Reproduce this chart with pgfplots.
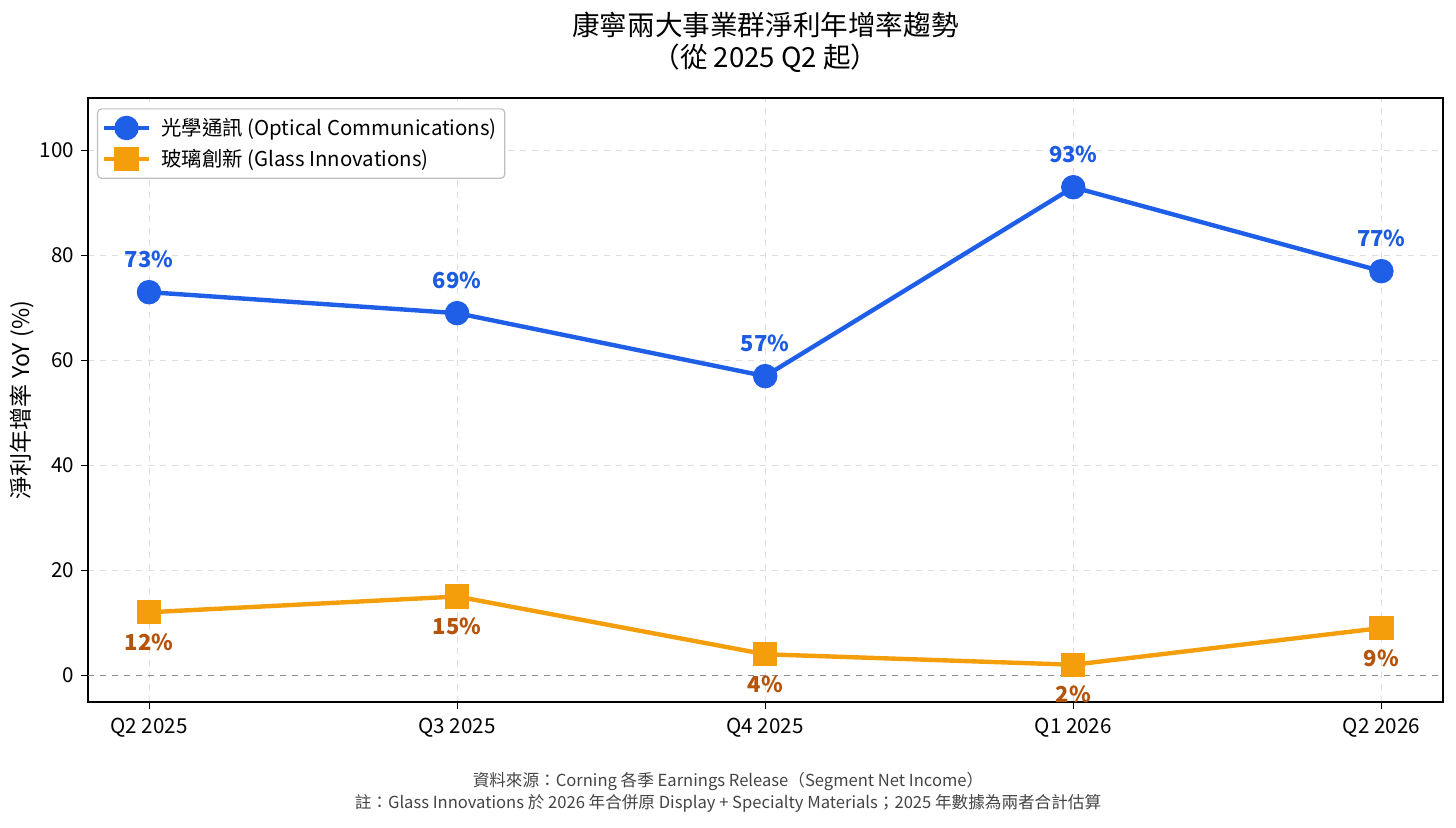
\documentclass[border=0pt]{standalone}
\usepackage{pgfplots}
\pgfplotsset{compat=1.18}
\usepackage{fontspec}
\setmainfont{Noto Sans CJK TC}
\definecolor{cblue}{HTML}{1F5FE8}
\definecolor{corange}{HTML}{F59E0B}
\definecolor{corlab}{HTML}{B45309}
\definecolor{cblulab}{HTML}{1D5CE0}
\definecolor{foot}{HTML}{444444}
\begin{document}
\begin{tikzpicture}[x=1pt,y=1pt]
\path[use as bounding box] (-44,-62.5) rectangle (684,351);
\begin{axis}[at={(0,0)}, anchor=south west, scale only axis,
  width=677.5pt, height=302pt,
  xmin=-0.198, xmax=4.2, ymin=-5.1, ymax=110,
  xtick={0,1,2,3,4},
  xticklabels={Q2 2025,Q3 2025,Q4 2025,Q1 2026,Q2 2026},
  ytick={0,20,40,60,80,100},
  tick pos=left,
  grid=major, grid style={dashed, black!13, line width=0.5pt},
  tick align=outside, major tick length=3.5pt,
  tick style={black, line width=0.5pt},
  axis line style={line width=0.6pt},
  ticklabel style={font=\fontsize{10.3}{12}\selectfont},
  xticklabel style={yshift=-1pt},
  /pgf/number format/assume math mode=true,
  legend cell align=left,
  legend style={at={(axis description cs:0.0066,0.983)}, anchor=north west,
    draw=black!25, rounded corners=2pt, line width=0.6pt,
    font=\fontsize{10.2}{12.5}\selectfont,
    inner xsep=2pt, inner ysep=2.5pt,
    row sep=1.5pt,
    /tikz/every odd column/.append style={column sep=3pt}},
  legend image code/.code={\draw[mark repeat=2,mark phase=2] plot coordinates {(0cm,0cm)(0.4cm,0cm)(0.8cm,0cm)};},
  point meta=explicit symbolic,
  clip=false,
]
\addplot[black!45, dashed, line width=0.6pt, forget plot] coordinates {(-0.198,0) (4.2,0)};
\addplot[cblue, line width=2.2pt, mark=*, mark size=5pt, mark options={solid, fill=cblue, draw=cblue},
  nodes near coords, nodes near coords style={font=\fontsize{11}{13}\selectfont\bfseries, text=cblulab, anchor=center, yshift=16.5pt}]
  coordinates {(0,73) [73\%] (1,69) [69\%] (2,57) [57\%] (3,93) [93\%] (4,77) [77\%]};
\addlegendentry{光學通訊 (Optical Communications)}
\addplot[corange, line width=2.2pt, mark=square*, mark size=5pt, mark options={solid, fill=corange, draw=corange},
  nodes near coords, nodes near coords style={font=\fontsize{11}{13}\selectfont\bfseries, text=corlab, anchor=center, yshift=-15pt}]
  coordinates {(0,12) [12\%] (1,15) [15\%] (2,4) [4\%] (3,2) [2\%] (4,9) [9\%]};
\addlegendentry{玻璃創新 (Glass Innovations)}
\end{axis}
\node[rotate=90, font=\fontsize{11.5}{13}\selectfont] at (-33,151) {淨利年增率 YoY (\%)};
\node[font=\fontsize{13.8}{16}\selectfont] at (338.75,338.5) {康寧兩大事業群淨利年增率趨勢};
\node[font=\fontsize{13.8}{16}\selectfont] at (338.75,322) {（從 2025 Q2 起）};
\node[font=\fontsize{8.3}{10}\selectfont, text=foot] at (320,-39.5) {資料來源：Corning 各季 Earnings Release（Segment Net Income）};
\node[font=\fontsize{8.3}{10}\selectfont, text=foot] at (320,-50.5) {註：Glass Innovations 於 2026 年合併原 Display + Specialty Materials；2025 年數據為兩者合計估算};
\end{tikzpicture}
\end{document}
